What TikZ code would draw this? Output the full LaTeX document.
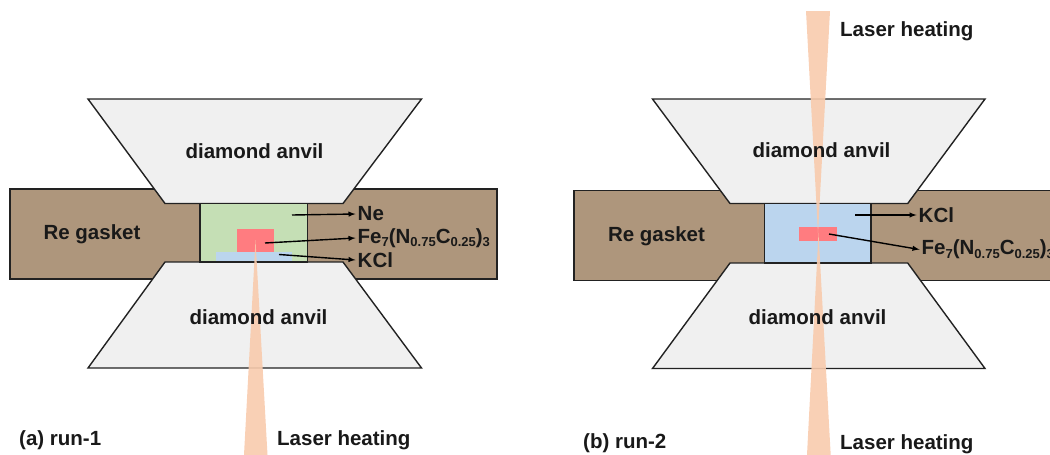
\documentclass[tikz,border=0pt]{standalone}
\usepackage{fontspec}
\setmainfont{Liberation Sans}
\definecolor{anvilgray}{HTML}{F0F0F0}
\definecolor{rebrown}{HTML}{AE967C}
\definecolor{negreen}{HTML}{C5DFB5}
\definecolor{kclblue}{HTML}{BBD5EE}
\definecolor{samplered}{HTML}{FF7C80}
\definecolor{laserorange}{HTML}{F8CBAD}
\definecolor{linedark}{HTML}{222222}
\newcommand{\lowidx}[1]{\raisebox{-0.3ex}{\fontsize{13}{13}\selectfont #1}}
\newcommand{\feform}{Fe\lowidx{7}(N\lowidx{0.75}C\lowidx{0.25})\lowidx{3}}
\tikzset{
    outline/.style={draw=linedark, line width=1.4pt, line join=miter},
    anvil/.style={outline, fill=anvilgray},
    gasket/.style={outline, fill=rebrown},
    beam/.style={fill=laserorange, fill opacity=0.9},
    lbl/.style={font=\fontsize{20.5}{24}\selectfont\bfseries, text=black!90, inner sep=0pt},
    tag/.style={lbl, anchor=west, inner sep=2pt},
    pointer/.style={->, >=latex, line width=1.4pt, black},
}
\begin{document}
\begin{tikzpicture}[x=1pt, y=-1pt]
    \useasboundingbox (0,0) rectangle (1050,455);
    % Panel a: gasket y celda
    \draw[gasket] (10,189) rectangle (497,279);
    \draw[anvil] (88,99) -- (421.5,99) -- (343,203.5) -- (165,203.5) -- cycle;
    \draw[anvil] (88,368) -- (421.5,368) -- (343,262) -- (165,262) -- cycle;
    \draw[outline, fill=negreen] (200,203.5) rectangle (307.5,262);
    \fill[kclblue] (215.7,251.7) rectangle (291.7,261.2);
    \fill[samplered] (236.7,229) rectangle (274,251.7);
    \fill[beam] (255.5,240) -- (267.5,455) -- (244,455) -- cycle;
    % Panel a: textos
    \node[lbl] (gasketA) at (92,234.5) {Re gasket};
    \node[lbl] (topA) at (254.5,151) {diamond anvil};
    \node[lbl] (botA) at (258.5,317) {diamond anvil};
    \node[lbl, anchor=west] (runA) at (19,440) {(a) run-1};
    \node[lbl, anchor=west] (laserA) at (277,440) {Laser heating};
    \node[tag] (neA) at (355.5,214) {Ne};
    \node[tag] (feA) at (355.5,238) {\feform};
    \node[tag] (kclA) at (355.5,260) {KCl};
    % Panel a: flechas
    \coordinate (neAstart) at (292,215);
    \coordinate (feAstart) at (265,243);
    \coordinate (kclAstart) at (279,254.5);
    \draw[pointer] (neAstart) -- (neA.west);
    \draw[pointer] (feAstart) -- (feA.west);
    \draw[pointer] (kclAstart) -- (kclA.west);
    % Panel b: gasket y celda
    \draw[gasket] (574,190.5) rectangle (1055,280.5);
    \draw[anvil] (652.5,99) -- (985,99) -- (907.7,203.5) -- (730,203.5) -- cycle;
    \draw[anvil] (652.5,368.5) -- (985,368.5) -- (907.7,263) -- (730,263) -- cycle;
    \draw[outline, fill=kclblue] (764.5,203.5) rectangle (871,263);
    \fill[samplered] (799.3,226.7) rectangle (836.7,241);
    \fill[beam] (818,233) -- (830,11) -- (806,11) -- cycle;
    \fill[beam] (818.5,233) -- (830.7,455) -- (807,455) -- cycle;
    % Panel b: textos
    \node[lbl] (gasketB) at (656.5,236.5) {Re gasket};
    \node[lbl] (topB) at (821.5,150) {diamond anvil};
    \node[lbl] (botB) at (817.5,317) {diamond anvil};
    \node[lbl, anchor=west] (runB) at (583,443) {(b) run-2};
    \node[lbl, anchor=west] (laserTopB) at (840,31) {Laser heating};
    \node[lbl, anchor=west] (laserBotB) at (840,444) {Laser heating};
    \node[tag] (kclB) at (916.5,215) {KCl};
    \node[tag] (feB) at (919.5,249.5) {\feform};
    % Panel b: flechas
    \coordinate (kclBstart) at (855,215);
    \coordinate (feBstart) at (829,234);
    \draw[pointer] (kclBstart) -- (kclB.west);
    \draw[pointer] (feBstart) -- (feB.west);
\end{tikzpicture}
\end{document}
